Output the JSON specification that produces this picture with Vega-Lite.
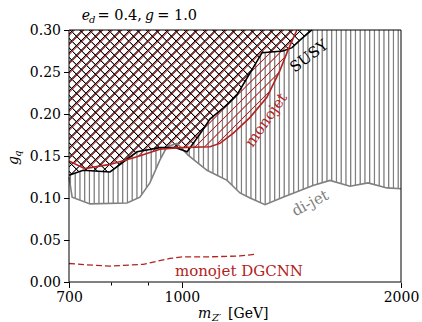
{
"$schema": "https://vega.github.io/schema/vega-lite/v6.json",
"width": 332, "height": 252,
"autosize": {"type": "none"},
"padding": {"left": 69, "top": 30, "right": 21, "bottom": 40},
"config": {"font": "DejaVu Serif", "view": {"stroke": null},
  "axis": {"labelFont": "DejaVu Serif", "labelFontSize": 14, "labelColor": "black", "tickColor": "black", "tickWidth": 1, "grid": false, "domain": false, "title": null}},
"datasets": {
 "dijet": [{"m":700,"g":0.125},{"m":707,"g":0.101},{"m":748,"g":0.093},{"m":841,"g":0.094},{"m":876,"g":0.101},{"m":904,"g":0.118},{"m":933,"g":0.145},{"m":954,"g":0.161},{"m":985,"g":0.165},{"m":1020,"g":0.151},{"m":1083,"g":0.133},{"m":1154,"g":0.121},{"m":1202,"g":0.106},{"m":1241,"g":0.1},{"m":1301,"g":0.092},{"m":1377,"g":0.101},{"m":1514,"g":0.115},{"m":1598,"g":0.121},{"m":1702,"g":0.114},{"m":1802,"g":0.118},{"m":1913,"g":0.112},{"m":2000,"g":0.111}],
 "susy": [{"m":700,"g":0.127},{"m":732,"g":0.133},{"m":797,"g":0.131},{"m":868,"g":0.155},{"m":933,"g":0.16},{"m":979,"g":0.16},{"m":1017,"g":0.155},{"m":1059,"g":0.176},{"m":1093,"g":0.194},{"m":1154,"g":0.211},{"m":1191,"g":0.223},{"m":1241,"g":0.249},{"m":1289,"g":0.273},{"m":1377,"g":0.275},{"m":1417,"g":0.279},{"m":1453,"g":0.288},{"m":1509,"g":0.3}],
 "monojet": [{"m":700,"g":0.144},{"m":736,"g":0.135},{"m":797,"g":0.14},{"m":868,"g":0.149},{"m":933,"g":0.158},{"m":994,"g":0.16},{"m":1093,"g":0.161},{"m":1128,"g":0.165},{"m":1176,"g":0.177},{"m":1241,"g":0.196},{"m":1309,"g":0.22},{"m":1364,"g":0.252},{"m":1399,"g":0.276},{"m":1439,"g":0.3}],
 "dgcnn": [{"m":700,"g":0.022},{"m":755,"g":0.02},{"m":797,"g":0.019},{"m":885,"g":0.021},{"m":963,"g":0.028},{"m":1004,"g":0.03},{"m":1093,"g":0.03},{"m":1202,"g":0.031},{"m":1261,"g":0.033}]
},
"encoding": {
 "x": {"field": "m", "type": "quantitative", "scale": {"type": "log", "domain": [700, 2000], "nice": false},
   "axis": {"values": [700, 800, 900, 1000, 2000], "format": "d", "labelExpr": "datum.value == 800 || datum.value == 900 ? '' : datum.label", "tickSize": {"condition": {"test": "datum.value == 800 || datum.value == 900", "value": 3}, "value": 5.5}, "labelPadding": 3, "labelFlush": false, "labelOverlap": false, "labelBound": false}},
 "y": {"field": "g", "type": "quantitative", "scale": {"domain": [0, 0.3], "nice": false, "zero": false},
   "axis": {"values": [0, 0.05, 0.1, 0.15, 0.2, 0.25, 0.3], "format": ".2f", "tickSize": 5.5, "labelPadding": 3, "labelOverlap": false}}
},
"layer": [
 {"data": {"name": "dijet"}, "mark": {"type": "area", "fill": {"gradient": "linear", "x1": 0, "y1": 0, "x2": 1.430723, "y2": 0, "stops": [
{"offset":0.00074,"color":"rgba(128,128,128,0)"},{"offset":0.00263,"color":"#808080"},{"offset":0.00347,"color":"#808080"},{"offset":0.00537,"color":"rgba(128,128,128,0)"},
{"offset":0.01074,"color":"rgba(128,128,128,0)"},{"offset":0.01263,"color":"#808080"},{"offset":0.01347,"color":"#808080"},{"offset":0.01537,"color":"rgba(128,128,128,0)"},
{"offset":0.02074,"color":"rgba(128,128,128,0)"},{"offset":0.02263,"color":"#808080"},{"offset":0.02347,"color":"#808080"},{"offset":0.02537,"color":"rgba(128,128,128,0)"},
{"offset":0.03074,"color":"rgba(128,128,128,0)"},{"offset":0.03263,"color":"#808080"},{"offset":0.03347,"color":"#808080"},{"offset":0.03537,"color":"rgba(128,128,128,0)"},
{"offset":0.04074,"color":"rgba(128,128,128,0)"},{"offset":0.04263,"color":"#808080"},{"offset":0.04347,"color":"#808080"},{"offset":0.04537,"color":"rgba(128,128,128,0)"},
{"offset":0.05074,"color":"rgba(128,128,128,0)"},{"offset":0.05263,"color":"#808080"},{"offset":0.05347,"color":"#808080"},{"offset":0.05537,"color":"rgba(128,128,128,0)"},
{"offset":0.06074,"color":"rgba(128,128,128,0)"},{"offset":0.06263,"color":"#808080"},{"offset":0.06347,"color":"#808080"},{"offset":0.06537,"color":"rgba(128,128,128,0)"},
{"offset":0.07074,"color":"rgba(128,128,128,0)"},{"offset":0.07263,"color":"#808080"},{"offset":0.07347,"color":"#808080"},{"offset":0.07537,"color":"rgba(128,128,128,0)"},
{"offset":0.08074,"color":"rgba(128,128,128,0)"},{"offset":0.08263,"color":"#808080"},{"offset":0.08347,"color":"#808080"},{"offset":0.08537,"color":"rgba(128,128,128,0)"},
{"offset":0.09074,"color":"rgba(128,128,128,0)"},{"offset":0.09263,"color":"#808080"},{"offset":0.09347,"color":"#808080"},{"offset":0.09537,"color":"rgba(128,128,128,0)"},
{"offset":0.10074,"color":"rgba(128,128,128,0)"},{"offset":0.10263,"color":"#808080"},{"offset":0.10347,"color":"#808080"},{"offset":0.10537,"color":"rgba(128,128,128,0)"},
{"offset":0.11074,"color":"rgba(128,128,128,0)"},{"offset":0.11263,"color":"#808080"},{"offset":0.11347,"color":"#808080"},{"offset":0.11537,"color":"rgba(128,128,128,0)"},
{"offset":0.12074,"color":"rgba(128,128,128,0)"},{"offset":0.12263,"color":"#808080"},{"offset":0.12347,"color":"#808080"},{"offset":0.12537,"color":"rgba(128,128,128,0)"},
{"offset":0.13074,"color":"rgba(128,128,128,0)"},{"offset":0.13263,"color":"#808080"},{"offset":0.13347,"color":"#808080"},{"offset":0.13537,"color":"rgba(128,128,128,0)"},
{"offset":0.14074,"color":"rgba(128,128,128,0)"},{"offset":0.14263,"color":"#808080"},{"offset":0.14347,"color":"#808080"},{"offset":0.14537,"color":"rgba(128,128,128,0)"},
{"offset":0.15074,"color":"rgba(128,128,128,0)"},{"offset":0.15263,"color":"#808080"},{"offset":0.15347,"color":"#808080"},{"offset":0.15537,"color":"rgba(128,128,128,0)"},
{"offset":0.16074,"color":"rgba(128,128,128,0)"},{"offset":0.16263,"color":"#808080"},{"offset":0.16347,"color":"#808080"},{"offset":0.16537,"color":"rgba(128,128,128,0)"},
{"offset":0.17074,"color":"rgba(128,128,128,0)"},{"offset":0.17263,"color":"#808080"},{"offset":0.17347,"color":"#808080"},{"offset":0.17537,"color":"rgba(128,128,128,0)"},
{"offset":0.18074,"color":"rgba(128,128,128,0)"},{"offset":0.18263,"color":"#808080"},{"offset":0.18347,"color":"#808080"},{"offset":0.18537,"color":"rgba(128,128,128,0)"},
{"offset":0.19074,"color":"rgba(128,128,128,0)"},{"offset":0.19263,"color":"#808080"},{"offset":0.19347,"color":"#808080"},{"offset":0.19537,"color":"rgba(128,128,128,0)"},
{"offset":0.20074,"color":"rgba(128,128,128,0)"},{"offset":0.20263,"color":"#808080"},{"offset":0.20347,"color":"#808080"},{"offset":0.20537,"color":"rgba(128,128,128,0)"},
{"offset":0.21074,"color":"rgba(128,128,128,0)"},{"offset":0.21263,"color":"#808080"},{"offset":0.21347,"color":"#808080"},{"offset":0.21537,"color":"rgba(128,128,128,0)"},
{"offset":0.22074,"color":"rgba(128,128,128,0)"},{"offset":0.22263,"color":"#808080"},{"offset":0.22347,"color":"#808080"},{"offset":0.22537,"color":"rgba(128,128,128,0)"},
{"offset":0.23074,"color":"rgba(128,128,128,0)"},{"offset":0.23263,"color":"#808080"},{"offset":0.23347,"color":"#808080"},{"offset":0.23537,"color":"rgba(128,128,128,0)"},
{"offset":0.24074,"color":"rgba(128,128,128,0)"},{"offset":0.24263,"color":"#808080"},{"offset":0.24347,"color":"#808080"},{"offset":0.24537,"color":"rgba(128,128,128,0)"},
{"offset":0.25074,"color":"rgba(128,128,128,0)"},{"offset":0.25263,"color":"#808080"},{"offset":0.25347,"color":"#808080"},{"offset":0.25537,"color":"rgba(128,128,128,0)"},
{"offset":0.26074,"color":"rgba(128,128,128,0)"},{"offset":0.26263,"color":"#808080"},{"offset":0.26347,"color":"#808080"},{"offset":0.26537,"color":"rgba(128,128,128,0)"},
{"offset":0.27074,"color":"rgba(128,128,128,0)"},{"offset":0.27263,"color":"#808080"},{"offset":0.27347,"color":"#808080"},{"offset":0.27537,"color":"rgba(128,128,128,0)"},
{"offset":0.28074,"color":"rgba(128,128,128,0)"},{"offset":0.28263,"color":"#808080"},{"offset":0.28347,"color":"#808080"},{"offset":0.28537,"color":"rgba(128,128,128,0)"},
{"offset":0.29074,"color":"rgba(128,128,128,0)"},{"offset":0.29263,"color":"#808080"},{"offset":0.29347,"color":"#808080"},{"offset":0.29537,"color":"rgba(128,128,128,0)"},
{"offset":0.30074,"color":"rgba(128,128,128,0)"},{"offset":0.30263,"color":"#808080"},{"offset":0.30347,"color":"#808080"},{"offset":0.30537,"color":"rgba(128,128,128,0)"},
{"offset":0.31074,"color":"rgba(128,128,128,0)"},{"offset":0.31263,"color":"#808080"},{"offset":0.31347,"color":"#808080"},{"offset":0.31537,"color":"rgba(128,128,128,0)"},
{"offset":0.32074,"color":"rgba(128,128,128,0)"},{"offset":0.32263,"color":"#808080"},{"offset":0.32347,"color":"#808080"},{"offset":0.32537,"color":"rgba(128,128,128,0)"},
{"offset":0.33074,"color":"rgba(128,128,128,0)"},{"offset":0.33263,"color":"#808080"},{"offset":0.33347,"color":"#808080"},{"offset":0.33537,"color":"rgba(128,128,128,0)"},
{"offset":0.34074,"color":"rgba(128,128,128,0)"},{"offset":0.34263,"color":"#808080"},{"offset":0.34347,"color":"#808080"},{"offset":0.34537,"color":"rgba(128,128,128,0)"},
{"offset":0.35074,"color":"rgba(128,128,128,0)"},{"offset":0.35263,"color":"#808080"},{"offset":0.35347,"color":"#808080"},{"offset":0.35537,"color":"rgba(128,128,128,0)"},
{"offset":0.36074,"color":"rgba(128,128,128,0)"},{"offset":0.36263,"color":"#808080"},{"offset":0.36347,"color":"#808080"},{"offset":0.36537,"color":"rgba(128,128,128,0)"},
{"offset":0.37074,"color":"rgba(128,128,128,0)"},{"offset":0.37263,"color":"#808080"},{"offset":0.37347,"color":"#808080"},{"offset":0.37537,"color":"rgba(128,128,128,0)"},
{"offset":0.38074,"color":"rgba(128,128,128,0)"},{"offset":0.38263,"color":"#808080"},{"offset":0.38347,"color":"#808080"},{"offset":0.38537,"color":"rgba(128,128,128,0)"},
{"offset":0.39074,"color":"rgba(128,128,128,0)"},{"offset":0.39263,"color":"#808080"},{"offset":0.39347,"color":"#808080"},{"offset":0.39537,"color":"rgba(128,128,128,0)"},
{"offset":0.40074,"color":"rgba(128,128,128,0)"},{"offset":0.40263,"color":"#808080"},{"offset":0.40347,"color":"#808080"},{"offset":0.40537,"color":"rgba(128,128,128,0)"},
{"offset":0.41074,"color":"rgba(128,128,128,0)"},{"offset":0.41263,"color":"#808080"},{"offset":0.41347,"color":"#808080"},{"offset":0.41537,"color":"rgba(128,128,128,0)"},
{"offset":0.42074,"color":"rgba(128,128,128,0)"},{"offset":0.42263,"color":"#808080"},{"offset":0.42347,"color":"#808080"},{"offset":0.42537,"color":"rgba(128,128,128,0)"},
{"offset":0.43074,"color":"rgba(128,128,128,0)"},{"offset":0.43263,"color":"#808080"},{"offset":0.43347,"color":"#808080"},{"offset":0.43537,"color":"rgba(128,128,128,0)"},
{"offset":0.44074,"color":"rgba(128,128,128,0)"},{"offset":0.44263,"color":"#808080"},{"offset":0.44347,"color":"#808080"},{"offset":0.44537,"color":"rgba(128,128,128,0)"},
{"offset":0.45074,"color":"rgba(128,128,128,0)"},{"offset":0.45263,"color":"#808080"},{"offset":0.45347,"color":"#808080"},{"offset":0.45537,"color":"rgba(128,128,128,0)"},
{"offset":0.46074,"color":"rgba(128,128,128,0)"},{"offset":0.46263,"color":"#808080"},{"offset":0.46347,"color":"#808080"},{"offset":0.46537,"color":"rgba(128,128,128,0)"},
{"offset":0.47074,"color":"rgba(128,128,128,0)"},{"offset":0.47263,"color":"#808080"},{"offset":0.47347,"color":"#808080"},{"offset":0.47537,"color":"rgba(128,128,128,0)"},
{"offset":0.48074,"color":"rgba(128,128,128,0)"},{"offset":0.48263,"color":"#808080"},{"offset":0.48347,"color":"#808080"},{"offset":0.48537,"color":"rgba(128,128,128,0)"},
{"offset":0.49074,"color":"rgba(128,128,128,0)"},{"offset":0.49263,"color":"#808080"},{"offset":0.49347,"color":"#808080"},{"offset":0.49537,"color":"rgba(128,128,128,0)"},
{"offset":0.50074,"color":"rgba(128,128,128,0)"},{"offset":0.50263,"color":"#808080"},{"offset":0.50347,"color":"#808080"},{"offset":0.50537,"color":"rgba(128,128,128,0)"},
{"offset":0.51074,"color":"rgba(128,128,128,0)"},{"offset":0.51263,"color":"#808080"},{"offset":0.51347,"color":"#808080"},{"offset":0.51537,"color":"rgba(128,128,128,0)"},
{"offset":0.52074,"color":"rgba(128,128,128,0)"},{"offset":0.52263,"color":"#808080"},{"offset":0.52347,"color":"#808080"},{"offset":0.52537,"color":"rgba(128,128,128,0)"},
{"offset":0.53074,"color":"rgba(128,128,128,0)"},{"offset":0.53263,"color":"#808080"},{"offset":0.53347,"color":"#808080"},{"offset":0.53537,"color":"rgba(128,128,128,0)"},
{"offset":0.54074,"color":"rgba(128,128,128,0)"},{"offset":0.54263,"color":"#808080"},{"offset":0.54347,"color":"#808080"},{"offset":0.54537,"color":"rgba(128,128,128,0)"},
{"offset":0.55074,"color":"rgba(128,128,128,0)"},{"offset":0.55263,"color":"#808080"},{"offset":0.55347,"color":"#808080"},{"offset":0.55537,"color":"rgba(128,128,128,0)"},
{"offset":0.56074,"color":"rgba(128,128,128,0)"},{"offset":0.56263,"color":"#808080"},{"offset":0.56347,"color":"#808080"},{"offset":0.56537,"color":"rgba(128,128,128,0)"},
{"offset":0.57074,"color":"rgba(128,128,128,0)"},{"offset":0.57263,"color":"#808080"},{"offset":0.57347,"color":"#808080"},{"offset":0.57537,"color":"rgba(128,128,128,0)"},
{"offset":0.58074,"color":"rgba(128,128,128,0)"},{"offset":0.58263,"color":"#808080"},{"offset":0.58347,"color":"#808080"},{"offset":0.58537,"color":"rgba(128,128,128,0)"},
{"offset":0.59074,"color":"rgba(128,128,128,0)"},{"offset":0.59263,"color":"#808080"},{"offset":0.59347,"color":"#808080"},{"offset":0.59537,"color":"rgba(128,128,128,0)"},
{"offset":0.60074,"color":"rgba(128,128,128,0)"},{"offset":0.60263,"color":"#808080"},{"offset":0.60347,"color":"#808080"},{"offset":0.60537,"color":"rgba(128,128,128,0)"},
{"offset":0.61074,"color":"rgba(128,128,128,0)"},{"offset":0.61263,"color":"#808080"},{"offset":0.61347,"color":"#808080"},{"offset":0.61537,"color":"rgba(128,128,128,0)"},
{"offset":0.62074,"color":"rgba(128,128,128,0)"},{"offset":0.62263,"color":"#808080"},{"offset":0.62347,"color":"#808080"},{"offset":0.62537,"color":"rgba(128,128,128,0)"},
{"offset":0.63074,"color":"rgba(128,128,128,0)"},{"offset":0.63263,"color":"#808080"},{"offset":0.63347,"color":"#808080"},{"offset":0.63537,"color":"rgba(128,128,128,0)"},
{"offset":0.64074,"color":"rgba(128,128,128,0)"},{"offset":0.64263,"color":"#808080"},{"offset":0.64347,"color":"#808080"},{"offset":0.64537,"color":"rgba(128,128,128,0)"},
{"offset":0.65074,"color":"rgba(128,128,128,0)"},{"offset":0.65263,"color":"#808080"},{"offset":0.65347,"color":"#808080"},{"offset":0.65537,"color":"rgba(128,128,128,0)"},
{"offset":0.66074,"color":"rgba(128,128,128,0)"},{"offset":0.66263,"color":"#808080"},{"offset":0.66347,"color":"#808080"},{"offset":0.66537,"color":"rgba(128,128,128,0)"},
{"offset":0.67074,"color":"rgba(128,128,128,0)"},{"offset":0.67263,"color":"#808080"},{"offset":0.67347,"color":"#808080"},{"offset":0.67537,"color":"rgba(128,128,128,0)"},
{"offset":0.68074,"color":"rgba(128,128,128,0)"},{"offset":0.68263,"color":"#808080"},{"offset":0.68347,"color":"#808080"},{"offset":0.68537,"color":"rgba(128,128,128,0)"},
{"offset":0.69074,"color":"rgba(128,128,128,0)"},{"offset":0.69263,"color":"#808080"},{"offset":0.69347,"color":"#808080"},{"offset":0.69537,"color":"rgba(128,128,128,0)"}
 ]}}, "encoding": {"y2": {"datum": 0.3}}},
 {"data": {"name": "susy"}, "mark": {"type": "area", "fill": "white"}, "encoding": {"y2": {"datum": 0.3}}},
 {"data": {"name": "susy"}, "mark": {"type": "area", "fill": {"gradient": "linear", "x1": 0, "y1": 1, "x2": 2.88011, "y2": -0.72302, "stops": [
{"offset":0.00305,"color":"rgba(0,0,0,0)"},{"offset":0.004,"color":"#000000"},{"offset":0.00442,"color":"#000000"},{"offset":0.00537,"color":"rgba(0,0,0,0)"},
{"offset":0.01305,"color":"rgba(0,0,0,0)"},{"offset":0.014,"color":"#000000"},{"offset":0.01442,"color":"#000000"},{"offset":0.01537,"color":"rgba(0,0,0,0)"},
{"offset":0.02305,"color":"rgba(0,0,0,0)"},{"offset":0.024,"color":"#000000"},{"offset":0.02442,"color":"#000000"},{"offset":0.02537,"color":"rgba(0,0,0,0)"},
{"offset":0.03305,"color":"rgba(0,0,0,0)"},{"offset":0.034,"color":"#000000"},{"offset":0.03442,"color":"#000000"},{"offset":0.03537,"color":"rgba(0,0,0,0)"},
{"offset":0.04305,"color":"rgba(0,0,0,0)"},{"offset":0.044,"color":"#000000"},{"offset":0.04442,"color":"#000000"},{"offset":0.04537,"color":"rgba(0,0,0,0)"},
{"offset":0.05305,"color":"rgba(0,0,0,0)"},{"offset":0.054,"color":"#000000"},{"offset":0.05442,"color":"#000000"},{"offset":0.05537,"color":"rgba(0,0,0,0)"},
{"offset":0.06305,"color":"rgba(0,0,0,0)"},{"offset":0.064,"color":"#000000"},{"offset":0.06442,"color":"#000000"},{"offset":0.06537,"color":"rgba(0,0,0,0)"},
{"offset":0.07305,"color":"rgba(0,0,0,0)"},{"offset":0.074,"color":"#000000"},{"offset":0.07442,"color":"#000000"},{"offset":0.07537,"color":"rgba(0,0,0,0)"},
{"offset":0.08305,"color":"rgba(0,0,0,0)"},{"offset":0.084,"color":"#000000"},{"offset":0.08442,"color":"#000000"},{"offset":0.08537,"color":"rgba(0,0,0,0)"},
{"offset":0.09305,"color":"rgba(0,0,0,0)"},{"offset":0.094,"color":"#000000"},{"offset":0.09442,"color":"#000000"},{"offset":0.09537,"color":"rgba(0,0,0,0)"},
{"offset":0.10305,"color":"rgba(0,0,0,0)"},{"offset":0.104,"color":"#000000"},{"offset":0.10442,"color":"#000000"},{"offset":0.10537,"color":"rgba(0,0,0,0)"},
{"offset":0.11305,"color":"rgba(0,0,0,0)"},{"offset":0.114,"color":"#000000"},{"offset":0.11442,"color":"#000000"},{"offset":0.11537,"color":"rgba(0,0,0,0)"},
{"offset":0.12305,"color":"rgba(0,0,0,0)"},{"offset":0.124,"color":"#000000"},{"offset":0.12442,"color":"#000000"},{"offset":0.12537,"color":"rgba(0,0,0,0)"},
{"offset":0.13305,"color":"rgba(0,0,0,0)"},{"offset":0.134,"color":"#000000"},{"offset":0.13442,"color":"#000000"},{"offset":0.13537,"color":"rgba(0,0,0,0)"},
{"offset":0.14305,"color":"rgba(0,0,0,0)"},{"offset":0.144,"color":"#000000"},{"offset":0.14442,"color":"#000000"},{"offset":0.14537,"color":"rgba(0,0,0,0)"},
{"offset":0.15305,"color":"rgba(0,0,0,0)"},{"offset":0.154,"color":"#000000"},{"offset":0.15442,"color":"#000000"},{"offset":0.15537,"color":"rgba(0,0,0,0)"},
{"offset":0.16305,"color":"rgba(0,0,0,0)"},{"offset":0.164,"color":"#000000"},{"offset":0.16442,"color":"#000000"},{"offset":0.16537,"color":"rgba(0,0,0,0)"},
{"offset":0.17305,"color":"rgba(0,0,0,0)"},{"offset":0.174,"color":"#000000"},{"offset":0.17442,"color":"#000000"},{"offset":0.17537,"color":"rgba(0,0,0,0)"},
{"offset":0.18305,"color":"rgba(0,0,0,0)"},{"offset":0.184,"color":"#000000"},{"offset":0.18442,"color":"#000000"},{"offset":0.18537,"color":"rgba(0,0,0,0)"},
{"offset":0.19305,"color":"rgba(0,0,0,0)"},{"offset":0.194,"color":"#000000"},{"offset":0.19442,"color":"#000000"},{"offset":0.19537,"color":"rgba(0,0,0,0)"},
{"offset":0.20305,"color":"rgba(0,0,0,0)"},{"offset":0.204,"color":"#000000"},{"offset":0.20442,"color":"#000000"},{"offset":0.20537,"color":"rgba(0,0,0,0)"},
{"offset":0.21305,"color":"rgba(0,0,0,0)"},{"offset":0.214,"color":"#000000"},{"offset":0.21442,"color":"#000000"},{"offset":0.21537,"color":"rgba(0,0,0,0)"},
{"offset":0.22305,"color":"rgba(0,0,0,0)"},{"offset":0.224,"color":"#000000"},{"offset":0.22442,"color":"#000000"},{"offset":0.22537,"color":"rgba(0,0,0,0)"},
{"offset":0.23305,"color":"rgba(0,0,0,0)"},{"offset":0.234,"color":"#000000"},{"offset":0.23442,"color":"#000000"},{"offset":0.23537,"color":"rgba(0,0,0,0)"},
{"offset":0.24305,"color":"rgba(0,0,0,0)"},{"offset":0.244,"color":"#000000"},{"offset":0.24442,"color":"#000000"},{"offset":0.24537,"color":"rgba(0,0,0,0)"},
{"offset":0.25305,"color":"rgba(0,0,0,0)"},{"offset":0.254,"color":"#000000"},{"offset":0.25442,"color":"#000000"},{"offset":0.25537,"color":"rgba(0,0,0,0)"},
{"offset":0.26305,"color":"rgba(0,0,0,0)"},{"offset":0.264,"color":"#000000"},{"offset":0.26442,"color":"#000000"},{"offset":0.26537,"color":"rgba(0,0,0,0)"},
{"offset":0.27305,"color":"rgba(0,0,0,0)"},{"offset":0.274,"color":"#000000"},{"offset":0.27442,"color":"#000000"},{"offset":0.27537,"color":"rgba(0,0,0,0)"},
{"offset":0.28305,"color":"rgba(0,0,0,0)"},{"offset":0.284,"color":"#000000"},{"offset":0.28442,"color":"#000000"},{"offset":0.28537,"color":"rgba(0,0,0,0)"},
{"offset":0.29305,"color":"rgba(0,0,0,0)"},{"offset":0.294,"color":"#000000"},{"offset":0.29442,"color":"#000000"},{"offset":0.29537,"color":"rgba(0,0,0,0)"},
{"offset":0.30305,"color":"rgba(0,0,0,0)"},{"offset":0.304,"color":"#000000"},{"offset":0.30442,"color":"#000000"},{"offset":0.30537,"color":"rgba(0,0,0,0)"},
{"offset":0.31305,"color":"rgba(0,0,0,0)"},{"offset":0.314,"color":"#000000"},{"offset":0.31442,"color":"#000000"},{"offset":0.31537,"color":"rgba(0,0,0,0)"},
{"offset":0.32305,"color":"rgba(0,0,0,0)"},{"offset":0.324,"color":"#000000"},{"offset":0.32442,"color":"#000000"},{"offset":0.32537,"color":"rgba(0,0,0,0)"},
{"offset":0.33305,"color":"rgba(0,0,0,0)"},{"offset":0.334,"color":"#000000"},{"offset":0.33442,"color":"#000000"},{"offset":0.33537,"color":"rgba(0,0,0,0)"},
{"offset":0.34305,"color":"rgba(0,0,0,0)"},{"offset":0.344,"color":"#000000"},{"offset":0.34442,"color":"#000000"},{"offset":0.34537,"color":"rgba(0,0,0,0)"},
{"offset":0.35305,"color":"rgba(0,0,0,0)"},{"offset":0.354,"color":"#000000"},{"offset":0.35442,"color":"#000000"},{"offset":0.35537,"color":"rgba(0,0,0,0)"},
{"offset":0.36305,"color":"rgba(0,0,0,0)"},{"offset":0.364,"color":"#000000"},{"offset":0.36442,"color":"#000000"},{"offset":0.36537,"color":"rgba(0,0,0,0)"},
{"offset":0.37305,"color":"rgba(0,0,0,0)"},{"offset":0.374,"color":"#000000"},{"offset":0.37442,"color":"#000000"},{"offset":0.37537,"color":"rgba(0,0,0,0)"},
{"offset":0.38305,"color":"rgba(0,0,0,0)"},{"offset":0.384,"color":"#000000"},{"offset":0.38442,"color":"#000000"},{"offset":0.38537,"color":"rgba(0,0,0,0)"},
{"offset":0.39305,"color":"rgba(0,0,0,0)"},{"offset":0.394,"color":"#000000"},{"offset":0.39442,"color":"#000000"},{"offset":0.39537,"color":"rgba(0,0,0,0)"},
{"offset":0.40305,"color":"rgba(0,0,0,0)"},{"offset":0.404,"color":"#000000"},{"offset":0.40442,"color":"#000000"},{"offset":0.40537,"color":"rgba(0,0,0,0)"}
 ]}}, "encoding": {"y2": {"datum": 0.3}}},
 {"data": {"name": "susy"}, "mark": {"type": "area", "fill": {"gradient": "linear", "x1": 0, "y1": 0, "x2": 2.88011, "y2": 1.72302, "stops": [
{"offset":0.00305,"color":"rgba(0,0,0,0)"},{"offset":0.004,"color":"#000000"},{"offset":0.00442,"color":"#000000"},{"offset":0.00537,"color":"rgba(0,0,0,0)"},
{"offset":0.01305,"color":"rgba(0,0,0,0)"},{"offset":0.014,"color":"#000000"},{"offset":0.01442,"color":"#000000"},{"offset":0.01537,"color":"rgba(0,0,0,0)"},
{"offset":0.02305,"color":"rgba(0,0,0,0)"},{"offset":0.024,"color":"#000000"},{"offset":0.02442,"color":"#000000"},{"offset":0.02537,"color":"rgba(0,0,0,0)"},
{"offset":0.03305,"color":"rgba(0,0,0,0)"},{"offset":0.034,"color":"#000000"},{"offset":0.03442,"color":"#000000"},{"offset":0.03537,"color":"rgba(0,0,0,0)"},
{"offset":0.04305,"color":"rgba(0,0,0,0)"},{"offset":0.044,"color":"#000000"},{"offset":0.04442,"color":"#000000"},{"offset":0.04537,"color":"rgba(0,0,0,0)"},
{"offset":0.05305,"color":"rgba(0,0,0,0)"},{"offset":0.054,"color":"#000000"},{"offset":0.05442,"color":"#000000"},{"offset":0.05537,"color":"rgba(0,0,0,0)"},
{"offset":0.06305,"color":"rgba(0,0,0,0)"},{"offset":0.064,"color":"#000000"},{"offset":0.06442,"color":"#000000"},{"offset":0.06537,"color":"rgba(0,0,0,0)"},
{"offset":0.07305,"color":"rgba(0,0,0,0)"},{"offset":0.074,"color":"#000000"},{"offset":0.07442,"color":"#000000"},{"offset":0.07537,"color":"rgba(0,0,0,0)"},
{"offset":0.08305,"color":"rgba(0,0,0,0)"},{"offset":0.084,"color":"#000000"},{"offset":0.08442,"color":"#000000"},{"offset":0.08537,"color":"rgba(0,0,0,0)"},
{"offset":0.09305,"color":"rgba(0,0,0,0)"},{"offset":0.094,"color":"#000000"},{"offset":0.09442,"color":"#000000"},{"offset":0.09537,"color":"rgba(0,0,0,0)"},
{"offset":0.10305,"color":"rgba(0,0,0,0)"},{"offset":0.104,"color":"#000000"},{"offset":0.10442,"color":"#000000"},{"offset":0.10537,"color":"rgba(0,0,0,0)"},
{"offset":0.11305,"color":"rgba(0,0,0,0)"},{"offset":0.114,"color":"#000000"},{"offset":0.11442,"color":"#000000"},{"offset":0.11537,"color":"rgba(0,0,0,0)"},
{"offset":0.12305,"color":"rgba(0,0,0,0)"},{"offset":0.124,"color":"#000000"},{"offset":0.12442,"color":"#000000"},{"offset":0.12537,"color":"rgba(0,0,0,0)"},
{"offset":0.13305,"color":"rgba(0,0,0,0)"},{"offset":0.134,"color":"#000000"},{"offset":0.13442,"color":"#000000"},{"offset":0.13537,"color":"rgba(0,0,0,0)"},
{"offset":0.14305,"color":"rgba(0,0,0,0)"},{"offset":0.144,"color":"#000000"},{"offset":0.14442,"color":"#000000"},{"offset":0.14537,"color":"rgba(0,0,0,0)"},
{"offset":0.15305,"color":"rgba(0,0,0,0)"},{"offset":0.154,"color":"#000000"},{"offset":0.15442,"color":"#000000"},{"offset":0.15537,"color":"rgba(0,0,0,0)"},
{"offset":0.16305,"color":"rgba(0,0,0,0)"},{"offset":0.164,"color":"#000000"},{"offset":0.16442,"color":"#000000"},{"offset":0.16537,"color":"rgba(0,0,0,0)"},
{"offset":0.17305,"color":"rgba(0,0,0,0)"},{"offset":0.174,"color":"#000000"},{"offset":0.17442,"color":"#000000"},{"offset":0.17537,"color":"rgba(0,0,0,0)"},
{"offset":0.18305,"color":"rgba(0,0,0,0)"},{"offset":0.184,"color":"#000000"},{"offset":0.18442,"color":"#000000"},{"offset":0.18537,"color":"rgba(0,0,0,0)"},
{"offset":0.19305,"color":"rgba(0,0,0,0)"},{"offset":0.194,"color":"#000000"},{"offset":0.19442,"color":"#000000"},{"offset":0.19537,"color":"rgba(0,0,0,0)"},
{"offset":0.20305,"color":"rgba(0,0,0,0)"},{"offset":0.204,"color":"#000000"},{"offset":0.20442,"color":"#000000"},{"offset":0.20537,"color":"rgba(0,0,0,0)"},
{"offset":0.21305,"color":"rgba(0,0,0,0)"},{"offset":0.214,"color":"#000000"},{"offset":0.21442,"color":"#000000"},{"offset":0.21537,"color":"rgba(0,0,0,0)"},
{"offset":0.22305,"color":"rgba(0,0,0,0)"},{"offset":0.224,"color":"#000000"},{"offset":0.22442,"color":"#000000"},{"offset":0.22537,"color":"rgba(0,0,0,0)"},
{"offset":0.23305,"color":"rgba(0,0,0,0)"},{"offset":0.234,"color":"#000000"},{"offset":0.23442,"color":"#000000"},{"offset":0.23537,"color":"rgba(0,0,0,0)"},
{"offset":0.24305,"color":"rgba(0,0,0,0)"},{"offset":0.244,"color":"#000000"},{"offset":0.24442,"color":"#000000"},{"offset":0.24537,"color":"rgba(0,0,0,0)"},
{"offset":0.25305,"color":"rgba(0,0,0,0)"},{"offset":0.254,"color":"#000000"},{"offset":0.25442,"color":"#000000"},{"offset":0.25537,"color":"rgba(0,0,0,0)"},
{"offset":0.26305,"color":"rgba(0,0,0,0)"},{"offset":0.264,"color":"#000000"},{"offset":0.26442,"color":"#000000"},{"offset":0.26537,"color":"rgba(0,0,0,0)"},
{"offset":0.27305,"color":"rgba(0,0,0,0)"},{"offset":0.274,"color":"#000000"},{"offset":0.27442,"color":"#000000"},{"offset":0.27537,"color":"rgba(0,0,0,0)"},
{"offset":0.28305,"color":"rgba(0,0,0,0)"},{"offset":0.284,"color":"#000000"},{"offset":0.28442,"color":"#000000"},{"offset":0.28537,"color":"rgba(0,0,0,0)"},
{"offset":0.29305,"color":"rgba(0,0,0,0)"},{"offset":0.294,"color":"#000000"},{"offset":0.29442,"color":"#000000"},{"offset":0.29537,"color":"rgba(0,0,0,0)"},
{"offset":0.30305,"color":"rgba(0,0,0,0)"},{"offset":0.304,"color":"#000000"},{"offset":0.30442,"color":"#000000"},{"offset":0.30537,"color":"rgba(0,0,0,0)"},
{"offset":0.31305,"color":"rgba(0,0,0,0)"},{"offset":0.314,"color":"#000000"},{"offset":0.31442,"color":"#000000"},{"offset":0.31537,"color":"rgba(0,0,0,0)"},
{"offset":0.32305,"color":"rgba(0,0,0,0)"},{"offset":0.324,"color":"#000000"},{"offset":0.32442,"color":"#000000"},{"offset":0.32537,"color":"rgba(0,0,0,0)"},
{"offset":0.33305,"color":"rgba(0,0,0,0)"},{"offset":0.334,"color":"#000000"},{"offset":0.33442,"color":"#000000"},{"offset":0.33537,"color":"rgba(0,0,0,0)"},
{"offset":0.34305,"color":"rgba(0,0,0,0)"},{"offset":0.344,"color":"#000000"},{"offset":0.34442,"color":"#000000"},{"offset":0.34537,"color":"rgba(0,0,0,0)"},
{"offset":0.35305,"color":"rgba(0,0,0,0)"},{"offset":0.354,"color":"#000000"},{"offset":0.35442,"color":"#000000"},{"offset":0.35537,"color":"rgba(0,0,0,0)"},
{"offset":0.36305,"color":"rgba(0,0,0,0)"},{"offset":0.364,"color":"#000000"},{"offset":0.36442,"color":"#000000"},{"offset":0.36537,"color":"rgba(0,0,0,0)"},
{"offset":0.37305,"color":"rgba(0,0,0,0)"},{"offset":0.374,"color":"#000000"},{"offset":0.37442,"color":"#000000"},{"offset":0.37537,"color":"rgba(0,0,0,0)"},
{"offset":0.38305,"color":"rgba(0,0,0,0)"},{"offset":0.384,"color":"#000000"},{"offset":0.38442,"color":"#000000"},{"offset":0.38537,"color":"rgba(0,0,0,0)"},
{"offset":0.39305,"color":"rgba(0,0,0,0)"},{"offset":0.394,"color":"#000000"},{"offset":0.39442,"color":"#000000"},{"offset":0.39537,"color":"rgba(0,0,0,0)"},
{"offset":0.40305,"color":"rgba(0,0,0,0)"},{"offset":0.404,"color":"#000000"},{"offset":0.40442,"color":"#000000"},{"offset":0.40537,"color":"rgba(0,0,0,0)"}
 ]}}, "encoding": {"y2": {"datum": 0.3}}},
 {"data": {"name": "monojet"}, "mark": {"type": "area", "fill": {"gradient": "linear", "x1": 0, "y1": 0, "x2": 3.04308, "y2": 1.85075, "stops": [
{"offset":0.00463,"color":"rgba(178,34,34,0)"},{"offset":0.00558,"color":"#b22222"},{"offset":0.006,"color":"#b22222"},{"offset":0.00695,"color":"rgba(178,34,34,0)"},
{"offset":0.01463,"color":"rgba(178,34,34,0)"},{"offset":0.01558,"color":"#b22222"},{"offset":0.016,"color":"#b22222"},{"offset":0.01695,"color":"rgba(178,34,34,0)"},
{"offset":0.02463,"color":"rgba(178,34,34,0)"},{"offset":0.02558,"color":"#b22222"},{"offset":0.026,"color":"#b22222"},{"offset":0.02695,"color":"rgba(178,34,34,0)"},
{"offset":0.03463,"color":"rgba(178,34,34,0)"},{"offset":0.03558,"color":"#b22222"},{"offset":0.036,"color":"#b22222"},{"offset":0.03695,"color":"rgba(178,34,34,0)"},
{"offset":0.04463,"color":"rgba(178,34,34,0)"},{"offset":0.04558,"color":"#b22222"},{"offset":0.046,"color":"#b22222"},{"offset":0.04695,"color":"rgba(178,34,34,0)"},
{"offset":0.05463,"color":"rgba(178,34,34,0)"},{"offset":0.05558,"color":"#b22222"},{"offset":0.056,"color":"#b22222"},{"offset":0.05695,"color":"rgba(178,34,34,0)"},
{"offset":0.06463,"color":"rgba(178,34,34,0)"},{"offset":0.06558,"color":"#b22222"},{"offset":0.066,"color":"#b22222"},{"offset":0.06695,"color":"rgba(178,34,34,0)"},
{"offset":0.07463,"color":"rgba(178,34,34,0)"},{"offset":0.07558,"color":"#b22222"},{"offset":0.076,"color":"#b22222"},{"offset":0.07695,"color":"rgba(178,34,34,0)"},
{"offset":0.08463,"color":"rgba(178,34,34,0)"},{"offset":0.08558,"color":"#b22222"},{"offset":0.086,"color":"#b22222"},{"offset":0.08695,"color":"rgba(178,34,34,0)"},
{"offset":0.09463,"color":"rgba(178,34,34,0)"},{"offset":0.09558,"color":"#b22222"},{"offset":0.096,"color":"#b22222"},{"offset":0.09695,"color":"rgba(178,34,34,0)"},
{"offset":0.10463,"color":"rgba(178,34,34,0)"},{"offset":0.10558,"color":"#b22222"},{"offset":0.106,"color":"#b22222"},{"offset":0.10695,"color":"rgba(178,34,34,0)"},
{"offset":0.11463,"color":"rgba(178,34,34,0)"},{"offset":0.11558,"color":"#b22222"},{"offset":0.116,"color":"#b22222"},{"offset":0.11695,"color":"rgba(178,34,34,0)"},
{"offset":0.12463,"color":"rgba(178,34,34,0)"},{"offset":0.12558,"color":"#b22222"},{"offset":0.126,"color":"#b22222"},{"offset":0.12695,"color":"rgba(178,34,34,0)"},
{"offset":0.13463,"color":"rgba(178,34,34,0)"},{"offset":0.13558,"color":"#b22222"},{"offset":0.136,"color":"#b22222"},{"offset":0.13695,"color":"rgba(178,34,34,0)"},
{"offset":0.14463,"color":"rgba(178,34,34,0)"},{"offset":0.14558,"color":"#b22222"},{"offset":0.146,"color":"#b22222"},{"offset":0.14695,"color":"rgba(178,34,34,0)"},
{"offset":0.15463,"color":"rgba(178,34,34,0)"},{"offset":0.15558,"color":"#b22222"},{"offset":0.156,"color":"#b22222"},{"offset":0.15695,"color":"rgba(178,34,34,0)"},
{"offset":0.16463,"color":"rgba(178,34,34,0)"},{"offset":0.16558,"color":"#b22222"},{"offset":0.166,"color":"#b22222"},{"offset":0.16695,"color":"rgba(178,34,34,0)"},
{"offset":0.17463,"color":"rgba(178,34,34,0)"},{"offset":0.17558,"color":"#b22222"},{"offset":0.176,"color":"#b22222"},{"offset":0.17695,"color":"rgba(178,34,34,0)"},
{"offset":0.18463,"color":"rgba(178,34,34,0)"},{"offset":0.18558,"color":"#b22222"},{"offset":0.186,"color":"#b22222"},{"offset":0.18695,"color":"rgba(178,34,34,0)"},
{"offset":0.19463,"color":"rgba(178,34,34,0)"},{"offset":0.19558,"color":"#b22222"},{"offset":0.196,"color":"#b22222"},{"offset":0.19695,"color":"rgba(178,34,34,0)"},
{"offset":0.20463,"color":"rgba(178,34,34,0)"},{"offset":0.20558,"color":"#b22222"},{"offset":0.206,"color":"#b22222"},{"offset":0.20695,"color":"rgba(178,34,34,0)"},
{"offset":0.21463,"color":"rgba(178,34,34,0)"},{"offset":0.21558,"color":"#b22222"},{"offset":0.216,"color":"#b22222"},{"offset":0.21695,"color":"rgba(178,34,34,0)"},
{"offset":0.22463,"color":"rgba(178,34,34,0)"},{"offset":0.22558,"color":"#b22222"},{"offset":0.226,"color":"#b22222"},{"offset":0.22695,"color":"rgba(178,34,34,0)"},
{"offset":0.23463,"color":"rgba(178,34,34,0)"},{"offset":0.23558,"color":"#b22222"},{"offset":0.236,"color":"#b22222"},{"offset":0.23695,"color":"rgba(178,34,34,0)"},
{"offset":0.24463,"color":"rgba(178,34,34,0)"},{"offset":0.24558,"color":"#b22222"},{"offset":0.246,"color":"#b22222"},{"offset":0.24695,"color":"rgba(178,34,34,0)"},
{"offset":0.25463,"color":"rgba(178,34,34,0)"},{"offset":0.25558,"color":"#b22222"},{"offset":0.256,"color":"#b22222"},{"offset":0.25695,"color":"rgba(178,34,34,0)"},
{"offset":0.26463,"color":"rgba(178,34,34,0)"},{"offset":0.26558,"color":"#b22222"},{"offset":0.266,"color":"#b22222"},{"offset":0.26695,"color":"rgba(178,34,34,0)"},
{"offset":0.27463,"color":"rgba(178,34,34,0)"},{"offset":0.27558,"color":"#b22222"},{"offset":0.276,"color":"#b22222"},{"offset":0.27695,"color":"rgba(178,34,34,0)"},
{"offset":0.28463,"color":"rgba(178,34,34,0)"},{"offset":0.28558,"color":"#b22222"},{"offset":0.286,"color":"#b22222"},{"offset":0.28695,"color":"rgba(178,34,34,0)"},
{"offset":0.29463,"color":"rgba(178,34,34,0)"},{"offset":0.29558,"color":"#b22222"},{"offset":0.296,"color":"#b22222"},{"offset":0.29695,"color":"rgba(178,34,34,0)"},
{"offset":0.30463,"color":"rgba(178,34,34,0)"},{"offset":0.30558,"color":"#b22222"},{"offset":0.306,"color":"#b22222"},{"offset":0.30695,"color":"rgba(178,34,34,0)"},
{"offset":0.31463,"color":"rgba(178,34,34,0)"},{"offset":0.31558,"color":"#b22222"},{"offset":0.316,"color":"#b22222"},{"offset":0.31695,"color":"rgba(178,34,34,0)"},
{"offset":0.32463,"color":"rgba(178,34,34,0)"},{"offset":0.32558,"color":"#b22222"},{"offset":0.326,"color":"#b22222"},{"offset":0.32695,"color":"rgba(178,34,34,0)"},
{"offset":0.33463,"color":"rgba(178,34,34,0)"},{"offset":0.33558,"color":"#b22222"},{"offset":0.336,"color":"#b22222"},{"offset":0.33695,"color":"rgba(178,34,34,0)"},
{"offset":0.34463,"color":"rgba(178,34,34,0)"},{"offset":0.34558,"color":"#b22222"},{"offset":0.346,"color":"#b22222"},{"offset":0.34695,"color":"rgba(178,34,34,0)"},
{"offset":0.35463,"color":"rgba(178,34,34,0)"},{"offset":0.35558,"color":"#b22222"},{"offset":0.356,"color":"#b22222"},{"offset":0.35695,"color":"rgba(178,34,34,0)"},
{"offset":0.36463,"color":"rgba(178,34,34,0)"},{"offset":0.36558,"color":"#b22222"},{"offset":0.366,"color":"#b22222"},{"offset":0.36695,"color":"rgba(178,34,34,0)"},
{"offset":0.37463,"color":"rgba(178,34,34,0)"},{"offset":0.37558,"color":"#b22222"},{"offset":0.376,"color":"#b22222"},{"offset":0.37695,"color":"rgba(178,34,34,0)"},
{"offset":0.38463,"color":"rgba(178,34,34,0)"},{"offset":0.38558,"color":"#b22222"},{"offset":0.386,"color":"#b22222"},{"offset":0.38695,"color":"rgba(178,34,34,0)"}
 ]}}, "encoding": {"y2": {"datum": 0.3}}},
 {"data": {"name": "dijet"}, "mark": {"type": "line", "color": "#808080", "strokeWidth": 1.6}, "encoding": {}},
 {"data": {"name": "susy"}, "mark": {"type": "line", "color": "black", "strokeWidth": 1.6}, "encoding": {}},
 {"data": {"name": "monojet"}, "mark": {"type": "line", "color": "#b22222", "strokeWidth": 1.6}, "encoding": {}},
 {"data": {"name": "dgcnn"}, "mark": {"type": "line", "color": "#b22222", "strokeWidth": 1.3, "strokeDash": [6, 3]}, "encoding": {}},
 {"data": {"values": [{"m": 700, "g": 0, "m2": 700, "g2": 0.3}, {"m": 2000, "g": 0, "m2": 2000, "g2": 0.3}, {"m": 700, "g": 0, "m2": 2000, "g2": 0}, {"m": 700, "g": 0.3, "m2": 2000, "g2": 0.3}]},
  "mark": {"type": "rule", "color": "black", "strokeWidth": 1}, "encoding": {"x2": {"field": "m2"}, "y2": {"field": "g2"}}},
 {"data": {"values": [{"m": 1495, "g": 0.269, "t": "SUSY"}]}, "mark": {"type": "text", "angle": -37, "fontSize": 15, "color": "black", "align": "center", "baseline": "middle"}, "encoding": {"text": {"field": "t"}}},
 {"data": {"values": [{"m": 1305, "g": 0.1929, "t": "monojet"}]}, "mark": {"type": "text", "angle": -55, "fontSize": 15, "color": "#b22222", "align": "center", "baseline": "middle"}, "encoding": {"text": {"field": "t"}}},
 {"data": {"values": [{"m": 1500, "g": 0.094, "t": "di-jet"}]}, "mark": {"type": "text", "angle": -28, "fontSize": 15, "color": "#808080", "align": "center", "baseline": "middle"}, "encoding": {"text": {"field": "t"}}},
 {"data": {"values": [{"m": 1198, "g": 0.0071, "t": "monojet DGCNN"}]}, "mark": {"type": "text", "fontSize": 15, "color": "#b22222", "align": "center", "baseline": "alphabetic"}, "encoding": {"text": {"field": "t"}}},
 {"data": {"values": [{"m": 728.7, "g": 0.3119, "t": "e"}, {"m": 890.2, "g": 0.3119, "t": "g"}]}, "mark": {"type": "text", "fontSize": 14, "fontStyle": "italic", "color": "black", "align": "left", "baseline": "alphabetic"}, "encoding": {"text": {"field": "t"}}},
 {"data": {"values": [{"m": 745.7, "g": 0.3083, "t": "d"}]}, "mark": {"type": "text", "fontSize": 10, "fontStyle": "italic", "color": "black", "align": "left", "baseline": "alphabetic"}, "encoding": {"text": {"field": "t"}}},
 {"data": {"values": [{"m": 766, "g": 0.3119, "t": "= 0.4,"}, {"m": 925, "g": 0.3119, "t": "= 1.0"}]}, "mark": {"type": "text", "fontSize": 14.5, "color": "black", "align": "left", "baseline": "alphabetic"}, "encoding": {"text": {"field": "t"}}},
 {"data": {"values": [{"m": 1052.5, "g": -0.04286, "t": "m"}]}, "mark": {"type": "text", "fontSize": 14, "fontStyle": "italic", "color": "black", "align": "left", "baseline": "alphabetic"}, "encoding": {"text": {"field": "t"}}},
 {"data": {"values": [{"m": 1100.2, "g": -0.04643, "t": "Z′"}]}, "mark": {"type": "text", "fontSize": 10, "fontStyle": "italic", "color": "black", "align": "left", "baseline": "alphabetic"}, "encoding": {"text": {"field": "t"}}},
 {"data": {"values": [{"m": 1157.3, "g": -0.04286, "t": "[GeV]"}]}, "mark": {"type": "text", "fontSize": 14, "color": "black", "align": "left", "baseline": "alphabetic"}, "encoding": {"text": {"field": "t"}}},
 {"data": {"values": [{"m": 595.7, "g": 0.13929, "t": "g"}]}, "mark": {"type": "text", "angle": 270, "fontSize": 14, "fontStyle": "italic", "color": "black", "align": "left", "baseline": "alphabetic"}, "encoding": {"text": {"field": "t"}}},
 {"data": {"values": [{"m": 601.4, "g": 0.14881, "t": "q"}]}, "mark": {"type": "text", "angle": 270, "fontSize": 10, "fontStyle": "italic", "color": "black", "align": "left", "baseline": "alphabetic"}, "encoding": {"text": {"field": "t"}}}
]
}
